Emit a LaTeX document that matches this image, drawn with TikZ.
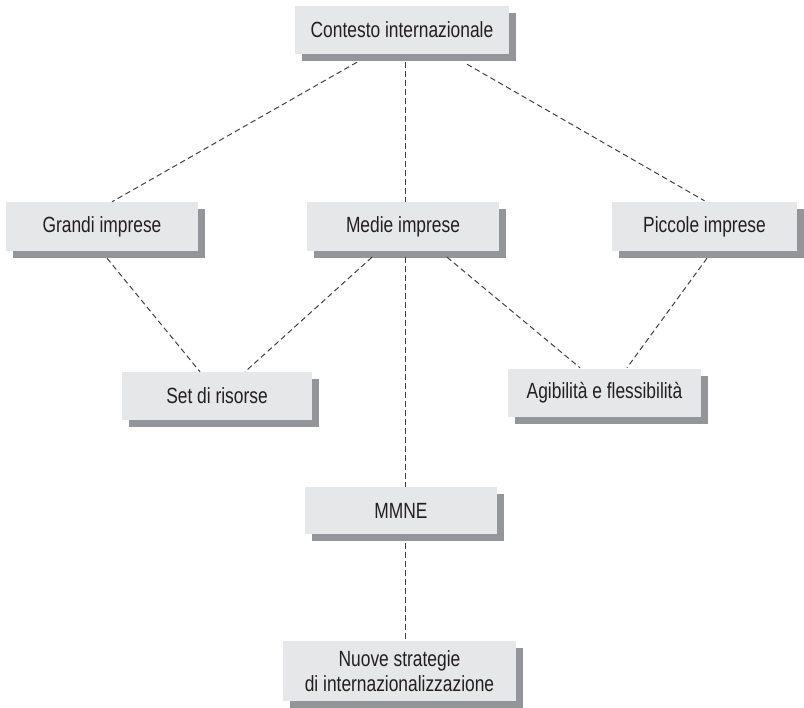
\documentclass[tikz,border=0pt]{standalone}
\usepackage{fontspec}
\setmainfont{Liberation Sans}[FakeStretch=0.79]
\usetikzlibrary{shadows}
\definecolor{boxfill}{HTML}{E6E7E8}
\definecolor{shadowgray}{HTML}{939598}
\definecolor{textgray}{HTML}{231F20}
\definecolor{linegray}{HTML}{404040}
\tikzset{
  box/.style={fill=boxfill, draw=none, inner sep=0pt, text=textgray,
    font=\fontsize{22}{25}\selectfont, align=center,
    general shadow={fill=shadowgray, shadow xshift=7pt, shadow yshift=-7pt}},
  conn/.style={draw=linegray, line width=1pt, dash pattern=on 5.5pt off 3.5pt}
}
\begin{document}
\begin{tikzpicture}[x=1pt,y=-1pt]
\useasboundingbox (0,0) rectangle (804,708);
\node[box, minimum width=214pt, minimum height=48pt] (ctx) at (402,30) {Contesto internazionale};
\node[box, minimum width=192pt, minimum height=49pt] (grandi) at (102,226.5) {Grandi imprese};
\node[box, minimum width=192pt, minimum height=49pt] (medie) at (403,226.5) {Medie imprese};
\node[box, minimum width=185pt, minimum height=49pt] (piccole) at (704.5,226.5) {Piccole imprese};
\node[box, minimum width=190pt, minimum height=48pt] (set) at (217,396) {Set di risorse};
\node[box, minimum width=193pt, minimum height=48pt] (agib) at (604.5,393) {Agibilità e flessibilità};
\node[box, minimum width=192pt, minimum height=47pt] (mmne) at (401,510.5) {MMNE};
\node[box, minimum width=233pt, minimum height=60pt] (nuove) at (399.5,671) {Nuove strategie\\di internazionalizzazione};

\draw[conn] ([shift={(-45,8)}]ctx.south) -- ([shift={(10,0)}]grandi.north);
\draw[conn] ([shift={(3,8)}]ctx.south) -- ([shift={(2,0)}]medie.north);
\draw[conn] ([shift={(65,10)}]ctx.south) -- ([shift={(0,-1)}]piccole.north);
\draw[conn] ([shift={(5,7)}]grandi.south) -- ([shift={(-17,0)}]set.north);
\draw[conn] ([shift={(-31,6)}]medie.south) -- ([shift={(28,0)}]set.north);
\draw[conn] ([shift={(2,6)}]medie.south) -- ([shift={(4,0)}]mmne.north);
\draw[conn] ([shift={(44,6)}]medie.south) -- ([shift={(-24.5,-1)}]agib.north);
\draw[conn] ([shift={(2.5,7)}]piccole.south) -- ([shift={(22.5,-1)}]agib.north);
\draw[conn] ([shift={(4,9)}]mmne.south) -- ([shift={(5.5,0)}]nuove.north);
\end{tikzpicture}
\end{document}
